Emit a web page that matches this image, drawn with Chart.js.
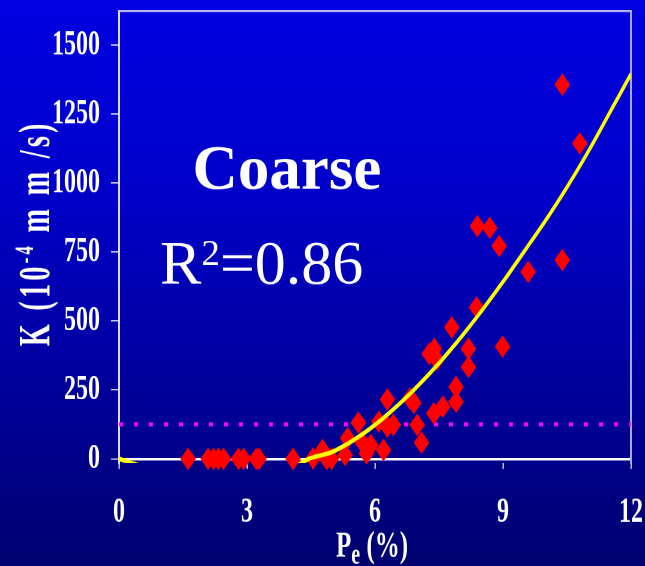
<!DOCTYPE html>
<html>
<head>
<meta charset="utf-8">
<title>Coarse</title>
<script src="https://cdn.jsdelivr.net/npm/chart.js@4.4.1/dist/chart.umd.min.js"></script>
<style>
  html, body { margin: 0; padding: 0; overflow: hidden; }
  body {
    width: 645px; height: 566px;
    background: linear-gradient(to bottom, #0000e2 0%, #0000c8 35%, #0000a0 65%, #00006e 100%);
  }
  #chart { display: block; width: 645px; height: 566px; }
</style>
</head>
<body>
<!-- drawn at 645x390 and stretched to 566 tall like the original slide -->
<canvas id="chart" width="645" height="390" style="width:645px;height:566px"></canvas>
<script>
const serif = "'Liberation Serif', 'Times New Roman', serif";

const xTicks = [0, 3, 6, 9, 12];
const yTicks = [0, 250, 500, 750, 1000, 1250, 1500];
const yMin = -15, yMax = 1623;

// measured points, Pe (%) and K (10^-4 mm/s)
const peValues = [1.62, 2.09, 2.22, 2.33, 2.45, 2.80, 2.92, 3.22, 3.28, 4.08,
                  4.55, 4.77, 4.87, 4.98, 5.30, 5.36, 5.61, 5.69, 5.80, 5.90,
                  6.09, 6.20, 6.29, 6.29, 6.43, 6.82, 6.91, 6.99, 7.09, 7.27,
                  7.39, 7.45, 7.38, 7.59, 7.80, 7.90, 7.90, 8.19, 8.19, 8.38,
                  8.40, 8.69, 8.91, 8.99, 9.59, 10.39, 10.39, 10.80];
const kValues  = [0, 0, 0, 0, 0, 0, 0, 0, 0, 0,
                  2, 32, 0, 0, 14, 75, 131, 62, 20, 50,
                  135, 32, 215, 117, 123, 219, 203, 123, 59, 381,
                  399, 360, 165, 189, 477, 261, 207, 399, 333, 549,
                  844, 838, 772, 407, 678, 721, 1357, 1144];

// trend line
const fitPe = [0, 0.5, 1.5, 2.5, 3.4, 4.0, 4.45, 5.0, 5.5, 6.0, 6.5, 7.0, 7.5, 8.0, 8.5, 9.0, 9.5, 10.0, 10.5, 11.0, 11.5, 12.0];
const fitK  = [0, -25, -65, -75, -62, -40, 0, 25, 68, 123, 189, 264, 347, 438, 537, 642, 753, 865, 985, 1115, 1255, 1396];

const thresholdK = 125;

const panelTitle = 'Coarse';
const r2Value = '0.86';
const coarseAt = [1.72, 980];
const r2At = [0.96, 635];

const toPoints = (xs, ys) => xs.map((v, i) => ({ x: v, y: ys[i] }));

// draws a list of [text, size, shift] pieces one char at a time, returns width
function drawPieces(ctx, parts, x0, y0, gap, bold, dry) {
  let px = x0;
  parts.forEach(p => {
    ctx.font = (bold ? 'bold ' : '') + p[1] + 'px ' + serif;
    for (const ch of p[0]) {
      if (!dry) ctx.fillText(ch, px, y0 + p[2]);
      px += ctx.measureText(ch).width + gap;
    }
  });
  return px - x0;
}

const slideText = {
  id: 'slideText',
  afterDraw(chart) {
    const { ctx, chartArea, scales } = chart;
    const sx = scales.x, sy = scales.y;
    const S = chart.canvas.clientHeight / chart.height;
    ctx.save();
    ctx.fillStyle = '#ffffff';
    ctx.textBaseline = 'alphabetic';
    ctx.textAlign = 'left';

    // big labels in the plot, not stretched
    ctx.save();
    ctx.translate(sx.getPixelForValue(coarseAt[0]), sy.getPixelForValue(coarseAt[1]));
    ctx.scale(1, 1 / S);
    ctx.font = 'bold 63px ' + serif;
    ctx.fillText(panelTitle, 0, 0);
    ctx.restore();

    ctx.save();
    ctx.translate(sx.getPixelForValue(r2At[0]), sy.getPixelForValue(r2At[1]));
    ctx.scale(1, 1 / S);
    ctx.font = '62px ' + serif;
    ctx.fillText('R', 0, 0);
    let w = ctx.measureText('R').width;
    ctx.font = '37px ' + serif;
    ctx.fillText('2', w, -19);
    w += ctx.measureText('2').width;
    ctx.font = '62px ' + serif;
    ctx.fillText('=' + r2Value, w, 0);
    ctx.restore();

    // y title, rotated
    ctx.save();
    ctx.translate(chartArea.left - 70, (chartArea.top + chartArea.bottom) / 2);
    ctx.scale(1, 1 / S);
    ctx.rotate(-Math.PI / 2);
    const parts = [['K (10', 44, 0], ['-4', 26, -16], [' m m /s)', 44, 0]];
    const total = drawPieces(ctx, parts, 0, 0, 5, true, true);
    ctx.scale(226 / total, 1);
    drawPieces(ctx, parts, -total / 2 + 6, 0, 5, true, false);
    ctx.restore();

    // x title with subscript
    ctx.save();
    const base = chart.height - 6.4;
    const xparts = [['P', 25, 0], ['e', 20, 5], [' (%)', 25, 0]];
    const tw = drawPieces(ctx, xparts, 0, 0, 0, true, true);
    drawPieces(ctx, xparts, sx.getPixelForValue(6) - 3 - tw / 2, base, 0, true, false);
    ctx.restore();

    ctx.restore();
  }
};

const tickFont = { family: serif, size: 24, weight: 'bold' };

const chart = new Chart(document.getElementById('chart'), {
  type: 'scatter',
  data: {
    datasets: [
      { type: 'line', data: toPoints(fitPe, fitK), borderColor: '#ffff00', borderWidth: 3.1,
        pointRadius: 0, cubicInterpolationMode: 'monotone', fill: false },
      { data: toPoints(peValues, kValues), pointStyle: 'rectRot', pointRadius: 7.8,
        backgroundColor: '#ff0000', borderColor: '#ff0000', borderWidth: 0, clip: false },
      { type: 'line', data: toPoints([xTicks[0], xTicks[xTicks.length - 1]], [thresholdK, thresholdK]),
        borderColor: '#ff00ff', borderWidth: 2.8, borderDash: [4, 11], borderCapStyle: 'butt',
        pointRadius: 0, fill: false }
    ]
  },
  options: {
    responsive: false,
    devicePixelRatio: 2,
    animation: false,
    events: [],
    layout: { padding: { left: 0, right: 14, top: 6.2, bottom: 0 } },
    plugins: { legend: { display: false }, tooltip: { enabled: false } },
    scales: {
      x: {
        type: 'linear', position: 'bottom', min: 0, max: 12,
        afterBuildTicks: s => { s.ticks = xTicks.map(v => ({ value: v })); },
        afterFit: s => { s.height = 71; s.paddingLeft = 0; s.paddingRight = 0; },
        border: { display: false },
        grid: { drawOnChartArea: false, drawTicks: true, tickLength: 4, color: '#b8b8ec', lineWidth: 1.5 },
        ticks: { color: '#ffffff', font: tickFont, padding: 16, maxRotation: 0, autoSkip: false,
                 callback: v => String(v) }
      },
      y: {
        type: 'linear', position: 'left', min: yMin, max: yMax,
        afterBuildTicks: s => { s.ticks = yTicks.map(v => ({ value: v })); },
        afterFit: s => { s.width = 119; s.paddingTop = 0; s.paddingBottom = 0; },
        border: { display: true, color: '#dcdcfa', width: 2 },
        grid: {
          color: c => (c.tick && c.tick.value === 0) ? '#ffffff' : 'rgba(0,0,0,0)',
          lineWidth: c => (c.tick && c.tick.value === 0) ? 1.7 : 1,
          tickColor: '#c4c4ee', tickWidth: 1, tickLength: 8, drawTicks: true
        },
        ticks: { color: '#ffffff', font: tickFont, padding: 11, callback: v => String(v) }
      },
      x2: {
        type: 'linear', position: 'top',
        afterFit: s => { s.height = 0; },
        border: { display: true, color: '#c8c8f2', width: 1.2 },
        grid: { display: false, drawTicks: false },
        ticks: { display: false }
      },
      y2: {
        type: 'linear', position: 'right',
        afterFit: s => { s.width = 0; },
        border: { display: true, color: '#a8a8f0', width: 2 },
        grid: { display: false, drawTicks: false },
        ticks: { display: false }
      }
    }
  },
  plugins: [slideText]
});
</script>
</body>
</html>
